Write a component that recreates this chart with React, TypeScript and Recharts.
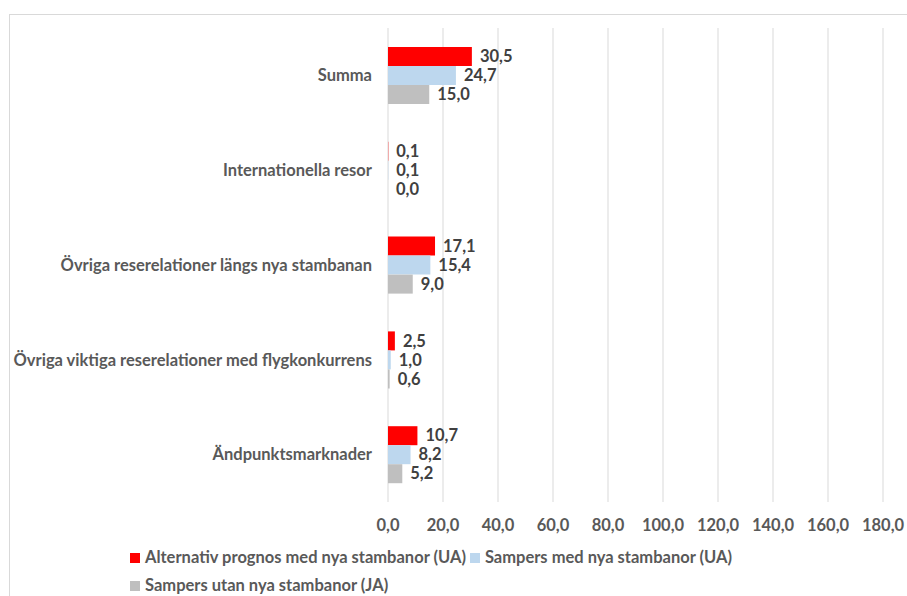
import { Bar, BarChart, CartesianGrid, LabelList, Legend, XAxis, YAxis } from "recharts";

const categories = [
  "Summa",
  "Internationella resor",
  "Övriga reserelationer längs nya stambanan",
  "Övriga viktiga reserelationer med flygkonkurrens",
  "Ändpunktsmarknader",
];
const alternativ = [30.5, 0.1, 17.1, 2.5, 10.7];
const sampersMed = [24.7, 0.1, 15.4, 1.0, 8.2];
const sampersUtan = [15.0, 0.0, 9.0, 0.6, 5.2];
const xTicks = [0, 20, 40, 60, 80, 100, 120, 140, 160, 180];

const SERIES = [
  { key: "alternativ", name: "Alternativ prognos med nya stambanor (UA)", color: "#ff0000" },
  { key: "sampersMed", name: "Sampers med nya stambanor (UA)", color: "#bdd7ee" },
  { key: "sampersUtan", name: "Sampers utan nya stambanor (JA)", color: "#bfbfbf" },
];

const data = categories.map((name, i) => ({
  name,
  alternativ: alternativ[i],
  sampersMed: sampersMed[i],
  sampersUtan: sampersUtan[i],
}));

const FONT = "Lato, 'Open Sans', sans-serif";
const FONT_SIZE = 16.5;
const fmt = (v: number) => Number(v).toFixed(1).replace(".", ",");

function LegendContent() {
  return (
    <div
      style={{
        display: "flex",
        flexWrap: "wrap",
        width: 640,
        rowGap: 9,
        fontFamily: FONT,
        fontWeight: 700,
        fontSize: FONT_SIZE,
        color: "#595959",
        lineHeight: "19px",
      }}
    >
      {SERIES.map((s) => (
        <div key={s.key} style={{ display: "flex", alignItems: "center", marginRight: 4 }}>
          <span style={{ width: 10, height: 10, background: s.color, marginRight: 5 }} />
          <span>{s.name}</span>
        </div>
      ))}
    </div>
  );
}

// zero-length bars draw no rectangle, so the value label is placed by hand
function ValueLabel(props: any) {
  const { x, y, width, height, value } = props;
  if (value == null) return null;
  return (
    <text
      x={Number(x) + Math.max(Number(width) || 0, 0) + 8}
      y={Number(y) + Number(height) / 2}
      dy="0.35em"
      fontFamily={FONT}
      fontWeight={700}
      fontSize={FONT_SIZE}
      fill="#404040"
    >
      {fmt(value)}
    </text>
  );
}

export default function App() {
  return (
    <div style={{ position: "relative", width: 907, height: 596, background: "#fff", overflow: "hidden" }}>
      <style>{"body{margin:0}"}</style>
      <div
        style={{
          position: "absolute",
          left: 9,
          top: 14,
          width: 920,
          height: 600,
          border: "1px solid #d9d9d9",
          boxSizing: "border-box",
        }}
      />
      <BarChart
        width={907}
        height={596}
        data={data}
        layout="vertical"
        margin={{ top: 28, right: 24, bottom: 64, left: 0 }}
        barSize={19}
        barGap={0}
        style={{ position: "absolute", left: 0, top: 0 }}
      >
        <CartesianGrid horizontal={false} stroke="#d9d9d9" />
        <XAxis
          type="number"
          domain={[0, 180]}
          ticks={xTicks}
          tickFormatter={fmt}
          height={30}
          axisLine={false}
          tickLine={false}
          tickMargin={11}
          tick={{ fontFamily: FONT, fontWeight: 700, fontSize: FONT_SIZE, fill: "#595959" }}
        />
        <YAxis
          type="category"
          dataKey="name"
          width={388}
          interval={0}
          axisLine={false}
          tickLine={false}
          tickMargin={10}
          tick={{ fontFamily: FONT, fontWeight: 700, fontSize: FONT_SIZE, fill: "#595959" }}
        />
        <Legend
          layout="horizontal"
          verticalAlign="middle"
          content={<LegendContent />}
          wrapperStyle={{ left: 130, top: 548, width: 640 }}
        />
        {SERIES.map((s) => (
          <Bar key={s.key} dataKey={s.key} name={s.name} fill={s.color} minPointSize={0.01} isAnimationActive={false}>
            <LabelList dataKey={s.key} content={<ValueLabel />} />
          </Bar>
        ))}
      </BarChart>
    </div>
  );
}
